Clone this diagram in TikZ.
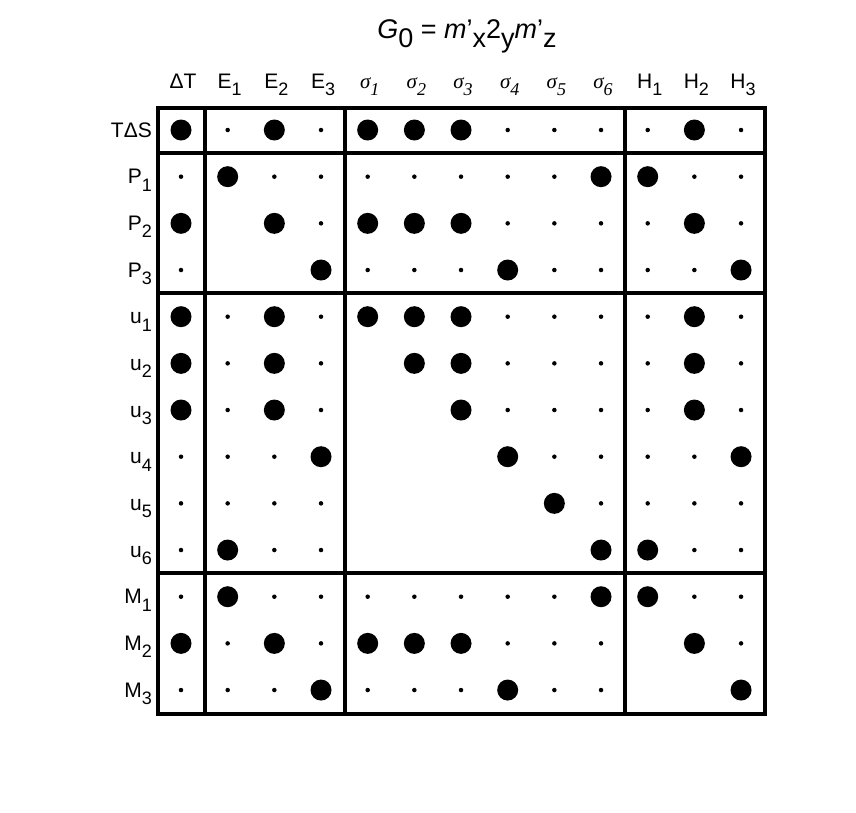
\documentclass[tikz,border=0pt]{standalone}
\usepackage{fontspec}
\setmainfont{Liberation Sans}
\newcommand{\lo}[1]{\raisebox{-0.35em}{\fontsize{18}{18}\selectfont #1}}
\newcommand{\sg}{\fontspec{Liberation Serif}\itshape σ}
\begin{document}
\begin{tikzpicture}[x=1pt,y=-1pt,
  big/.style={circle,fill=black,minimum width=19pt,minimum height=21pt,inner sep=0pt},
  small/.style={circle,fill=black,minimum size=4.5pt,inner sep=0pt},
  lab/.style={font=\fontsize{21}{22}\selectfont,inner sep=0pt},
  frame/.style={line width=3.4pt}]
\useasboundingbox (0,0) rectangle (856,812);
\node[font=\fontsize{27}{28}\selectfont,anchor=base] (title) at (467,38) {\textit{G}\raisebox{-0.35em}{0} = \textit{m}'\raisebox{-0.35em}{x}2\raisebox{-0.35em}{y}\textit{m}'\raisebox{-0.35em}{z}};
\def\dx{46.67}
\foreach \t [count=\i] in {ΔT,E\lo{1},E\lo{2},E\lo{3},\sg\lo{1},\sg\lo{2},\sg\lo{3},\sg\lo{4},\sg\lo{5},\sg\lo{6},H\lo{1},H\lo{2},H\lo{3}}
  \node[lab,anchor=base] (c\i) at ({183+\dx*(\i-1)},88) {\t};
\foreach \t [count=\i] in {TΔS,P\lo{1},P\lo{2},P\lo{3},u\lo{1},u\lo{2},u\lo{3},u\lo{4},u\lo{5},u\lo{6},M\lo{1},M\lo{2},M\lo{3}}
  \node[lab,anchor=base east] (r\i) at (152,{137+\dx*(\i-1)}) {\t};
\foreach \row [count=\r] in {
 {B,s,B,s,B,B,B,s,s,s,s,B,s},
 {s,B,s,s,s,s,s,s,s,B,B,s,s},
 {B,n,B,s,B,B,B,s,s,s,s,B,s},
 {s,n,n,B,s,s,s,B,s,s,s,s,B},
 {B,s,B,s,B,B,B,s,s,s,s,B,s},
 {B,s,B,s,n,B,B,s,s,s,s,B,s},
 {B,s,B,s,n,n,B,s,s,s,s,B,s},
 {s,s,s,B,n,n,n,B,s,s,s,s,B},
 {s,s,s,s,n,n,n,n,B,s,s,s,s},
 {s,B,s,s,n,n,n,n,n,B,B,s,s},
 {s,B,s,s,s,s,s,s,s,B,B,s,s},
 {B,s,B,s,B,B,B,s,s,s,n,B,s},
 {s,s,s,B,s,s,s,B,s,s,n,n,B}}
 \foreach \c [count=\i] in \row {
   \if\c B \node[big] (d-\r-\i) at ({181+\dx*(\i-1)},{130+\dx*(\r-1)}) {};\fi
   \if\c s \node[small] (d-\r-\i) at ({181+\dx*(\i-1)},{130+\dx*(\r-1)}) {};\fi
 };
\draw[frame] (158,108) rectangle (765,714);
\draw[frame] (205,108) -- (205,714);
\draw[frame] (345,108) -- (345,714);
\draw[frame] (625,108) -- (625,714);
\draw[frame] (158,153) -- (765,153);
\draw[frame] (158,293) -- (765,293);
\draw[frame] (158,573) -- (765,573);
\end{tikzpicture}
\end{document}
